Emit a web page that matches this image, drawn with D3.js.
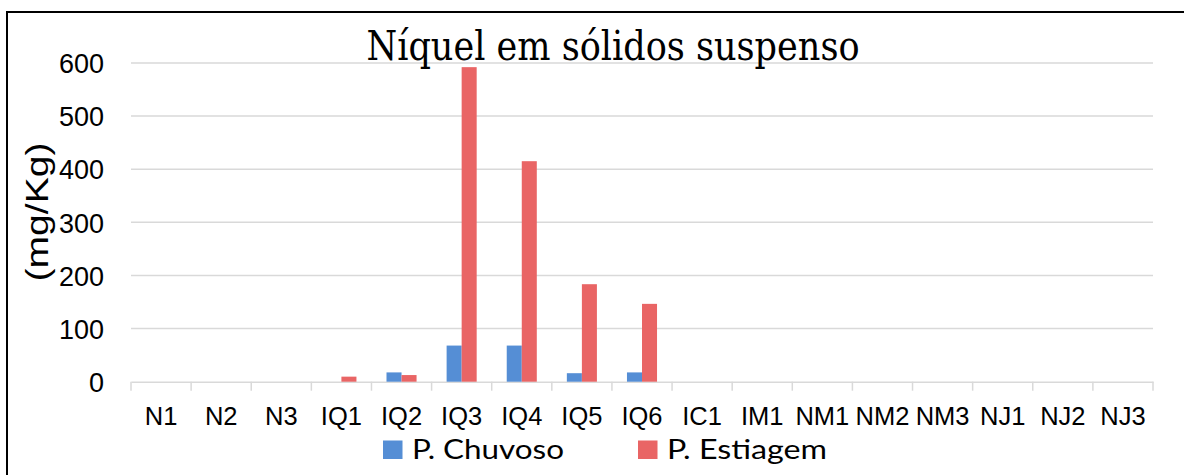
<!DOCTYPE html>
<html>
<head>
<meta charset="utf-8">
<script src="https://cdn.jsdelivr.net/npm/d3@7"></script>
<style>
html,body{margin:0;padding:0;background:#fff;}
svg{display:block;}
.sans{font-family:"Liberation Sans", Arial, sans-serif;}
</style>
</head>
<body>
<svg id="chart" width="1184" height="475"></svg>
<script>
const categories = ["N1","N2","N3","IQ1","IQ2","IQ3","IQ4","IQ5","IQ6","IC1","IM1","NM1","NM2","NM3","NJ1","NJ2","NJ3"];
const seriesNames = ["P. Chuvoso","P. Estiagem"];
const chuvoso  = [0,0,0,0,17.5,68,68,16,17.5,0,0,0,0,0,0,0,0];
const estiagem = [0,0,0,9.5,12.5,592,415,183.5,146.5,0,0,0,0,0,0,0,0];
const yTicks = [0,100,200,300,400,500,600];
const colors = ["#558ED5","#E96565"];
const titleText = "Níquel em sólidos suspenso";
const yTitle = "(mg/Kg)";

const svg = d3.select("#chart");

// frame
svg.append("path").attr("d","M7,475 V12 H1184").attr("fill","none").attr("stroke","#000").attr("stroke-width",2);

const x = d3.scaleBand().domain(categories).range([131,1153]).paddingInner(0).paddingOuter(0);
const xs = d3.scaleBand().domain(seriesNames).range([x.bandwidth()/4, x.bandwidth()*3/4]);
const y = d3.scaleLinear().domain([0,600]).range([381.7,62.9]);

// gridlines
svg.append("g").selectAll("line").data(yTicks.filter(d=>d>0)).join("line")
  .attr("x1",131).attr("x2",1153)
  .attr("y1",d=>y(d)).attr("y2",d=>y(d))
  .attr("stroke","#d9d9d9").attr("stroke-width",1.5);

// y labels
const yAxis = svg.append("g").attr("transform","translate(131,0)")
  .call(d3.axisLeft(y).tickValues(yTicks).tickSize(0).tickPadding(27));
yAxis.select(".domain").remove();
yAxis.attr("font-family",null).attr("font-size",null);
yAxis.selectAll("text").attr("class","sans").style("font-size","27px").attr("fill","#000").attr("dy","0.36em");

// x axis
const xAxis = svg.append("g").attr("transform",`translate(0,${y(0)})`)
  .call(d3.axisBottom(x).tickSize(0).tickPadding(25));
xAxis.attr("font-family",null).attr("font-size",null);
xAxis.select(".domain").attr("stroke","#d9d9d9").attr("stroke-width",1.5);
xAxis.selectAll("text").attr("class","sans").style("font-size","25.5px").attr("fill","#000").attr("dy","0.71em");
// tick marks at band edges
const edges = categories.map(c=>x(c)).concat([x(categories[categories.length-1])+x.bandwidth()]);
svg.append("g").selectAll("line").data(edges).join("line")
  .attr("x1",d=>d).attr("x2",d=>d).attr("y1",y(0)).attr("y2",y(0)+9)
  .attr("stroke","#d9d9d9").attr("stroke-width",1.5);

// bars
const data = [chuvoso, estiagem];
seriesNames.forEach((s,si)=>{
  svg.append("g").selectAll("rect").data(categories.map((c,i)=>({c,v:data[si][i]})).filter(d=>d.v>0)).join("rect")
    .attr("x",d=>x(d.c)+xs(s)).attr("width",xs.bandwidth())
    .attr("y",d=>y(d.v)).attr("height",d=>y(0)-y(d.v))
    .attr("fill",colors[si]);
});

function fitWidth(sel, w){
  sel.attr("textLength", w).attr("lengthAdjust","spacingAndGlyphs");
}

// title
const t = svg.append("text").attr("x",613).attr("y",59.5).attr("text-anchor","middle")
  .style("font-family","'DejaVu Serif', 'Liberation Serif', serif").style("font-size","41px").attr("fill","#000")
  .text(titleText);
fitWidth(t, 493);

// y title
const yt = svg.append("text").attr("transform","translate(48,212) rotate(-90)").attr("text-anchor","middle")
  .attr("class","sans").style("font-size","32px").attr("fill","#000")
  .text(yTitle);
fitWidth(yt, 139);

// legend
const legX = [383, 638];
const legW = [152, 160];
seriesNames.forEach((s,i)=>{
  svg.append("rect").attr("x",legX[i]).attr("y",440.5).attr("width",19.5).attr("height",18.5).attr("fill",colors[i]);
  const lt = svg.append("text").attr("x",legX[i]+29).attr("y",459).style("font-family","Lato, 'Open Sans', sans-serif")
    .style("font-size","26px").attr("fill","#000").text(s);
  fitWidth(lt, legW[i]);
});
</script>
</body>
</html>
